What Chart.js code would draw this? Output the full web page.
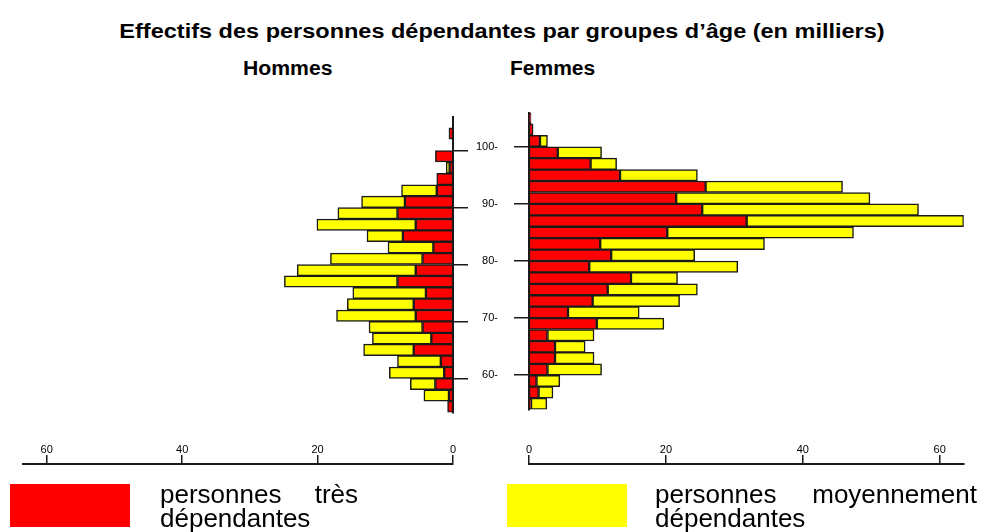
<!DOCTYPE html>
<html><head><meta charset="utf-8">
<script src="https://cdn.jsdelivr.net/npm/chart.js@4/dist/chart.umd.min.js"></script>
<style>
body{margin:0;background:#fff;width:984px;height:532px;position:relative;overflow:hidden;font-family:"Liberation Sans",Arial,sans-serif;color:#000;}
.box{position:absolute;}
.t{position:absolute;white-space:nowrap;font-weight:bold;font-size:20px;}
.leg{position:absolute;font-size:26px;line-height:24px;text-align:justify;}
.sw{position:absolute;}
</style></head><body>
<div class="t" style="left:0;width:1004px;text-align:center;top:20px;transform:scaleX(1.175);transform-origin:502px 0;">Effectifs des personnes dépendantes par groupes d’âge (en milliers)</div>
<div class="t" style="left:243px;top:57px;transform:scaleX(1.06);transform-origin:0 0;">Hommes</div>
<div class="t" style="left:510px;top:57px;transform:scaleX(1.05);transform-origin:0 0;">Femmes</div>

<div class="box" style="left:13px;top:104px;width:460px;height:320px"><canvas id="cL"></canvas></div>
<div class="box" style="left:469px;top:100px;width:500px;height:320px"><canvas id="cR"></canvas></div>
<div class="box" style="left:13px;top:420px;width:460px;height:60px"><canvas id="aL"></canvas></div>
<div class="box" style="left:469px;top:420px;width:500px;height:60px"><canvas id="aR"></canvas></div>

<div class="sw" style="left:10px;top:484px;width:120px;height:43px;background:#ff0000"></div>
<div class="leg" style="left:160px;top:482px;width:198px;">personnes très dépendantes</div>
<div class="sw" style="left:507px;top:484px;width:120px;height:43px;background:#ffff00"></div>
<div class="leg" style="left:655px;top:482px;width:322px;">personnes moyennement dépendantes</div>

<script>
// Age groups (2-year bins), centres, youngest first
const ageGroups = ['54-55','56-57','58-59','60-61','62-63','64-65','66-67','68-69','70-71','72-73','74-75','76-77','78-79','80-81','82-83','84-85','86-87','88-89','90-91','92-93','94-95','96-97','98-99','100-101','102-103','104-105'];
const ageCenters = [55,57,59,61,63,65,67,69,71,73,75,77,79,81,83,85,87,89,91,93,95,97,99,101,103,105];
const ageTicks = [60,70,80,90,100];
const countTicks = [0,20,40,60];

// Effectifs (milliers)
const hommesTres = [0.8,0.6,2.6,1.3,1.8,5.8,3.2,4.5,5.5,5.8,4.0,8.2,5.5,4.5,2.9,7.4,5.5,8.2,7.1,2.4,2.4,0.5,2.6,0,0.6,0];
const hommesMoy  = [0,3.7,3.7,8.1,6.4,7.4,8.7,7.9,11.7,9.8,10.8,16.7,17.5,13.6,6.7,5.3,14.6,8.8,6.4,5.2,0,0.5,0,0,0,0];
const femmesTres = [0.3,1.4,1.1,2.7,3.8,3.8,2.7,9.9,5.7,9.3,11.5,14.9,8.8,12.0,10.4,20.2,31.8,25.3,21.5,25.8,13.3,9.0,4.2,1.6,0.6,0.3];
const femmesMoy  = [2.3,2.1,3.4,7.9,5.7,4.4,6.8,9.8,10.4,12.7,13.1,6.8,21.7,12.2,24.0,27.2,31.7,31.6,28.3,20.0,11.3,3.8,6.4,1.1,0,0];

const seriesLabels = ['personnes très dépendantes','personnes moyennement dépendantes'];
const RED = '#ff0000', YELLOW = '#ffff00', INK = '#1a1a1a';
const XMAX = 63.5;

function pts(vals){ return ageCenters.map((a,i)=>({x:vals[i], y:a})); }

function barChart(id, tres, moy, side){
  const left = side === 'left';
  return new Chart(document.getElementById(id), {
    type:'bar',
    data:{ datasets:[
      {label:seriesLabels[0], data:pts(tres), backgroundColor:RED},
      {label:seriesLabels[1], data:pts(moy), backgroundColor:YELLOW}
    ]},
    options:{
      indexAxis:'y', responsive:true, maintainAspectRatio:false, animation:false,
      layout:{padding: left ? {left:10,right:5,top:12.5,bottom:11.5} : {left:0,right:5.3,top:12.5,bottom:10.5}},
      plugins:{legend:{display:false}, tooltip:{enabled:false}},
      datasets:{bar:{barPercentage:1, categoryPercentage:1, borderWidth:1.5, borderColor:INK, borderSkipped:false}},
      scales:{
        x:{type:'linear', stacked:true, min:0, max:XMAX, reverse:left, display:false},
        y:{type:'linear', stacked:true, min:54, max:106, offset:false, position: left ? 'right' : 'left',
           afterBuildTicks:s=>{ s.ticks = ageTicks.map(v=>({value:v})); },
           afterFit:s=>{ s.width = left ? 15 : 60; s.paddingTop = 0; s.paddingBottom = 0; },
           grid:{offset:false, drawOnChartArea:false, drawTicks:true, tickLength:15, color:INK, lineWidth:1.5},
           border:{display:true, color:INK, width:2},
           ticks:{display:!left, padding:16, color:'#000', font:{family:'Liberation Sans', size:11, lineHeight:1},
                  callback:v=>v+'-'}
        }
      }
    }
  });
}

function axisChart(id, side){
  const left = side === 'left';
  return new Chart(document.getElementById(id), {
    type:'bar',
    data:{ datasets:[] },
    options:{
      indexAxis:'y', responsive:true, maintainAspectRatio:false, animation:false,
      layout:{padding: left ? {left:10,right:20,top:14,bottom:10} : {left:60,right:5.3,top:14,bottom:10}},
      plugins:{legend:{display:false}, tooltip:{enabled:false}},
      scales:{
        x:{type:'linear', position:'top', min:0, max:XMAX, reverse:left, offset:false,
           afterBuildTicks:s=>{ s.ticks = countTicks.map(v=>({value:v})); },
           afterFit:s=>{ s.height = 30; s.paddingLeft = 0; s.paddingRight = 0; },
           grid:{offset:false, drawOnChartArea:false, drawTicks:true, tickLength:9, color:INK, lineWidth:1.5},
           border:{display:true, color:INK, width:2},
           ticks:{padding:0, maxRotation:0, color:'#000', font:{family:'Liberation Sans', size:11, lineHeight:1}}
        },
        y:{type:'linear', display:false, offset:false}
      }
    }
  });
}

barChart('cL', hommesTres, hommesMoy, 'left');
barChart('cR', femmesTres, femmesMoy, 'right');
axisChart('aL', 'left');
axisChart('aR', 'right');
</script>
</body></html>
